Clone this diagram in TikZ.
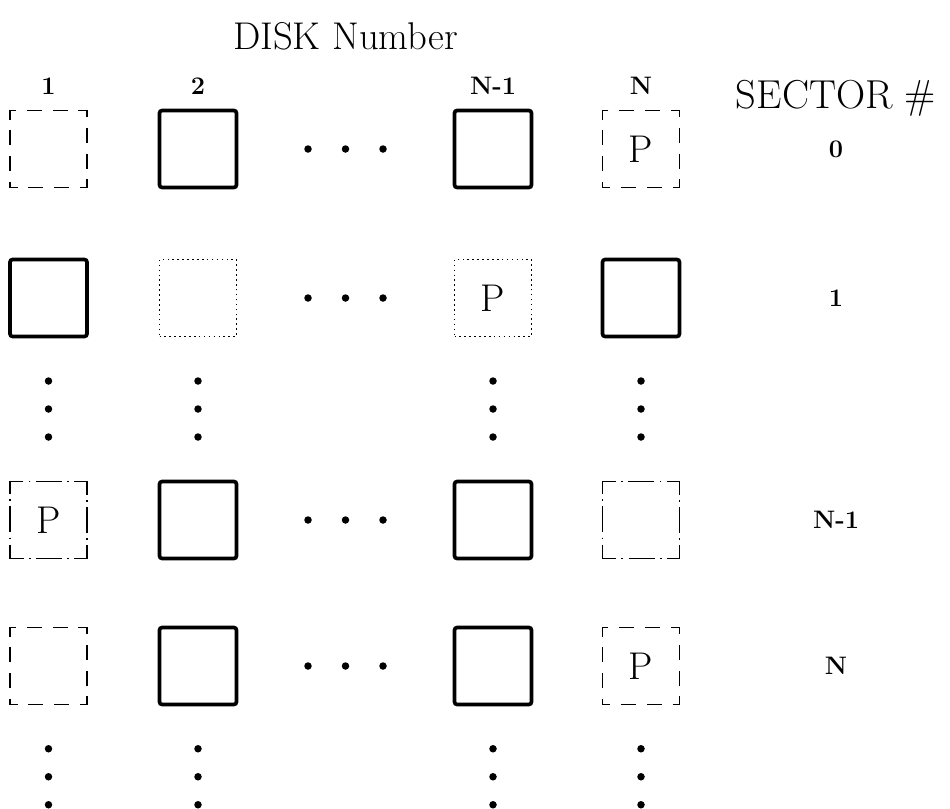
\documentclass[tikz,border=0pt]{standalone}
\usepackage{tikz}
\usetikzlibrary{positioning,calc}
\newcommand{\bigtxt}{\fontsize{22}{26}\selectfont}
\tikzstyle{sd}=[%
      rectangle, draw=black, line width=2.1pt, rounded corners=1.5pt, fill=none,
      minimum size=1.54cm, inner sep=0pt, outer sep=0pt, font=\bigtxt
]
\tikzstyle{da}=[%
      rectangle, draw=black, line width=1.1pt, dash pattern=on 8.5pt off 6.2pt, dash phase=4.2pt,
      minimum size=1.54cm, inner sep=0pt, outer sep=0pt, font=\bigtxt
]
\tikzstyle{dt}=[%
      rectangle, draw=black, line width=1pt, dash pattern=on 0.9pt off 1.9pt,
      minimum size=1.54cm, inner sep=0pt, outer sep=0pt, font=\bigtxt
]
\tikzstyle{dc}=[%
      rectangle, draw=black, line width=1pt, dash pattern=on 14.8pt off 3pt on 1pt off 3pt, dash phase=7pt,
      minimum size=1.54cm, inner sep=0pt, outer sep=0pt, font=\bigtxt
]
\tikzstyle{bul}=[circle, fill=black, inner sep=0pt, outer sep=0pt, minimum size=0.15cm]
\tikzstyle{lb}=[font=\Large\bfseries]

\begin{document}
\begin{tikzpicture}
    \useasboundingbox (-0.97,-13.18) rectangle (18.03,2.98);

    % sector 0
    \node[da]                          (r0c1) {};
    \node[sd, right = 1.45cm of r0c1]  (r0c2) {};
    \node[sd, right = 4.36cm of r0c2]  (r0c3) {};
    \node[da, right = 1.42cm of r0c3]  (r0c4) {P};
    % sector 1
    \node[sd, below = 1.44cm of r0c1]  (r1c1) {};
    \node[dt, below = 1.44cm of r0c2]  (r1c2) {};
    \node[dt, below = 1.44cm of r0c3]  (r1c3) {P};
    \node[sd, below = 1.44cm of r0c4]  (r1c4) {};
    % sector N-1
    \node[dc, below = 2.90cm of r1c1]  (r2c1) {P};
    \node[sd, below = 2.90cm of r1c2]  (r2c2) {};
    \node[sd, below = 2.90cm of r1c3]  (r2c3) {};
    \node[dc, below = 2.90cm of r1c4]  (r2c4) {};
    % sector N
    \node[da, below = 1.38cm of r2c1]  (r3c1) {};
    \node[sd, below = 1.38cm of r2c2]  (r3c2) {};
    \node[sd, below = 1.38cm of r2c3]  (r3c3) {};
    \node[da, below = 1.38cm of r2c4]  (r3c4) {P};

    % disks 3 .. N-2 left out
    \foreach \row in {0,...,3} {
      \node[bul] (h\row) at ($(r\row c2)!.5!(r\row c3)$) {};
      \node[bul, left = 0.6cm of h\row] {};
      \node[bul, right = 0.6cm of h\row] {};
    }
    % sectors 2 .. N-2 and past N
    \foreach \col in {1,...,4} {
      \node[bul] (v\col) at ($(r1c\col)!.5!(r2c\col)$) {};
      \node[bul, above = 0.41cm of v\col] {};
      \node[bul, below = 0.41cm of v\col] {};
      \node[bul, below = 0.81cm of r3c\col] (w\col a) {};
      \node[bul, below = 0.41cm of w\col a] (w\col b) {};
      \node[bul, below = 0.41cm of w\col b] {};
    }

    % disk numbers
    \node[lb, above = 0.2cm of r0c1] (d1) {1};
    \node[lb, above = 0.2cm of r0c2] (d2) {2};
    \node[lb, above = 0.2cm of r0c3] (d3) {N-1};
    \node[lb, above = 0.2cm of r0c4] (d4) {N};
    \coordinate (mid) at ($(d2.north)!.5!(d3.north)$);
    \node[font=\bigtxt, above = 0.3cm of mid] (disk) {DISK Number};

    % sector numbers
    \node[font=\fontsize{23}{27}\selectfont] (sector) at ($(r0c4)+(3.9,1.02)$) {SECTOR \#};
    \node[lb] (s0) at (sector |- r0c4) {0};
    \node[lb] (s1) at (sector |- r1c4) {1};
    \node[lb] (s2) at (sector |- r2c4) {N-1};
    \node[lb] (s3) at (sector |- r3c4) {N};
\end{tikzpicture}
\end{document}
